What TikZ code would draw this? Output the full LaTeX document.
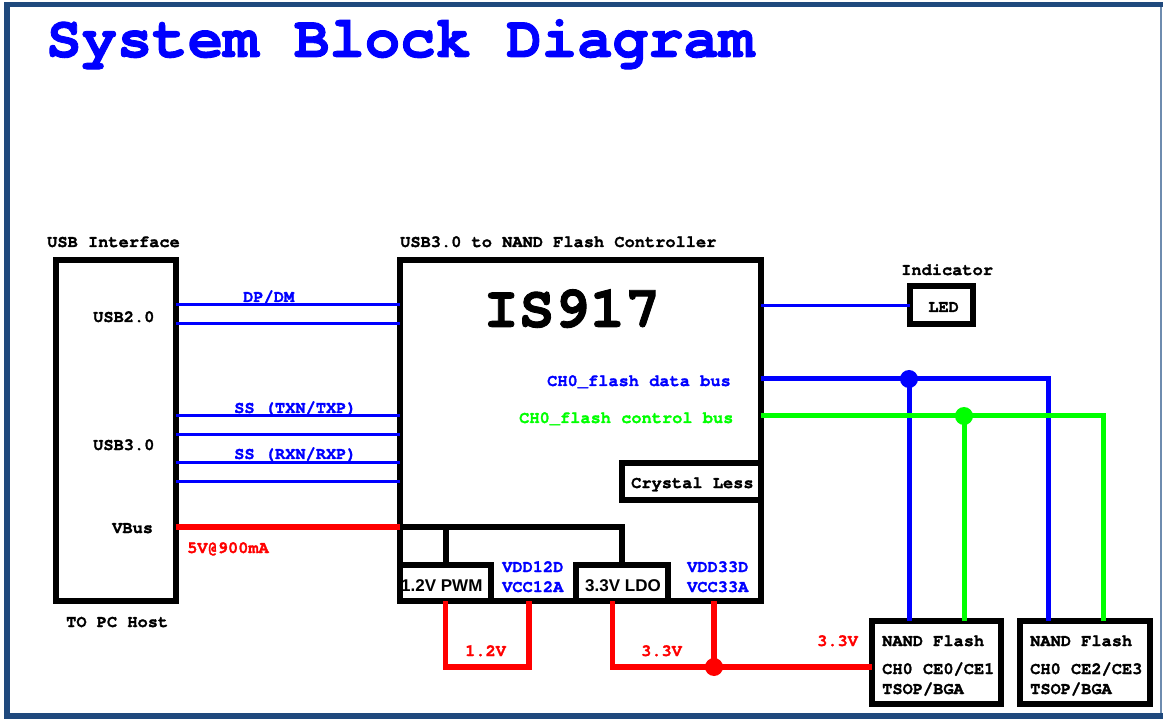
\documentclass[tikz,border=0pt]{standalone}
\usepackage{fontspec}
\newfontfamily\monof{TeX Gyre Cursor}[Ligatures=NoCommon, BoldFeatures={FakeBold=1.5}]
\newfontfamily\arialf{Liberation Sans}
\definecolor{frameblue}{RGB}{31,73,125}
\definecolor{frameside}{RGB}{110,140,175}
\definecolor{sigblue}{RGB}{0,0,255}
\definecolor{sigred}{RGB}{255,0,0}
\definecolor{siggreen}{RGB}{0,255,0}
\begin{document}
\begin{tikzpicture}[x=1pt,y=-1pt,
  box/.style={draw=black, line width=6pt, inner sep=0pt, outer sep=0pt},
  txt/.style={font=\monof\bfseries\fontsize{17}{17}\selectfont, inner sep=0pt, anchor=base west},
  big/.style={font=\monof\bfseries\fontsize{59}{59}\selectfont, inner sep=0pt, anchor=base west},
  sans/.style={font=\arialf\bfseries\fontsize{17}{17}\selectfont, inner sep=0pt, anchor=base west},
  sig/.style={draw=sigblue, line width=3pt},
  dbus/.style={draw=sigblue, line width=5pt},
  cbus/.style={draw=siggreen, line width=5pt},
  pwr/.style={draw=sigred, line width=5.5pt},
  vbus/.style={draw=sigred, line width=6pt},
  blk/.style={draw=black, line width=6pt},
  jdot/.style={circle, inner sep=0pt, outer sep=0pt, minimum size=18pt},
]
\useasboundingbox (0,0) rectangle (1163,719);
% frame
\fill[frameblue] (4,2) rectangle (1163,7);
\fill[frameblue] (4,2) rectangle (10,719);
\fill[frameblue] (4,713) rectangle (1163,719);
\fill[frameside] (1160,7) rectangle (1162,713);

% title
\node[big, text=sigblue] (title) at (46,57) {System Block Diagram};

% boxes
\node[box, minimum width=120pt, minimum height=341pt] (usb) at (116,430.5) {};
\node[box, minimum width=361pt, minimum height=341pt] (ctrl) at (580.5,430.5) {};
\node[box, minimum width=139pt, minimum height=36.5pt] (crys) at (691.5,481.25) {};
\node[box, minimum width=63pt, minimum height=38.5pt] (led) at (941.5,305.25) {};
\node[box, minimum width=129pt, minimum height=83pt] (nand1) at (936.5,662.5) {};
\node[box, minimum width=130pt, minimum height=83pt] (nand2) at (1085,662.5) {};

% PWM / LDO labels (drawn before their boxes)
\node[sans] (pwmt) at (401,591) {1.2V PWM};
\node[sans] (ldot) at (585,591) {3.3V LDO};
\node[box, minimum width=91pt, minimum height=36pt] (pwm) at (445.5,583) {};
\node[box, minimum width=92pt, minimum height=36pt] (ldo) at (622,583) {};

% coordinates
\coordinate (jd) at (909,379);
\coordinate (jc) at (964,416);
\coordinate (j33) at (714,667);
\coordinate (v12) at (529,601);

% USB signal lines
\foreach \yy in {305,323.5,416,435,463,481}{
  \draw[sig] (usb.east |- 0,\yy) -- (ctrl.west |- 0,\yy);
}
% VBus
\draw[vbus] (usb.east |- 0,527) -- (ctrl.west |- 0,527);
\draw[blk] (ctrl.west |- 0,527) -| (ldo.north);
\draw[blk] (pwm.north) -- (pwm.north |- 0,527);

% power rails
\draw[pwr] (pwm.south) |- (v12 |- j33) -- (v12);
\draw[pwr] ([xshift=-9.5pt]ldo.south) |- (j33) -- (nand1.west |- j33);
\draw[pwr] (j33) -- (j33 |- ctrl.south);
\node[jdot, fill=sigred] (d33) at (j33) {};

% LED
\draw[sig] (ctrl.east |- led.west) -- (led.west);

% buses
\draw[dbus] (ctrl.east |- jd) -| ([xshift=-37pt]nand2.north);
\draw[dbus] (jd) -- (jd |- nand1.north);
\node[jdot, fill=sigblue] (dd) at (jd) {};
\draw[cbus] (ctrl.east |- jc) -| ([xshift=18pt]nand2.north);
\draw[cbus] (jc) -- (jc |- nand1.north);
\node[jdot, fill=siggreen] (dc) at (jc) {};

% texts
\node[txt] (usbif) at (47,247) {USB Interface};
\node[txt] (ctrlt) at (400,247) {USB3.0 to NAND Flash Controller};
\node[txt] (u20) at (93,322) {USB2.0};
\node[txt] (u30) at (93,450) {USB3.0};
\node[txt] (vb) at (112,533) {VBus};
\node[txt] (pc) at (66,627) {TO PC Host};
\node[txt, text=sigblue] (dpdm) at (243,302) {DP/DM};
\node[txt, text=sigblue] (sstx) at (234,413) {SS (TXN/TXP)};
\node[txt, text=sigblue] (ssrx) at (234,459) {SS (RXN/RXP)};
\node[txt, text=sigred] (v5) at (187,553) {5V@900mA};
\node[font=\monof\bfseries\fontsize{59}{59}\selectfont, inner sep=0pt, anchor=base] (is) at (572,327) {IS917};
\node[txt, text=sigblue] (dbt) at (547,386) {CH0\symbol{95}flash data bus};
\node[txt, text=siggreen] (cbt) at (519,423) {CH0\symbol{95}flash control bus};
\node[txt] (crt) at (631,488) {Crystal Less};
\node[txt] (ind) at (901,275) {Indicator};
\node[txt] (ledt) at (928,312) {LED};
\node[txt, text=sigblue] (vd12) at (502,572) {VDD12D};
\node[txt, text=sigblue] (vc12) at (502,592) {VCC12A};
\node[txt, text=sigblue] (vd33) at (687,572) {VDD33D};
\node[txt, text=sigblue] (vc33) at (687,592) {VCC33A};
\node[txt, text=sigred] (l12) at (465,656) {1.2V};
\node[txt, text=sigred] (l33) at (641,656) {3.3V};
\node[txt, text=sigred] (l33b) at (817,646) {3.3V};
\node[txt] (n1a) at (882,646) {NAND Flash};
\node[txt] (n1b) at (882,674) {CH0 CE0/CE1};
\node[txt] (n1c) at (882,694) {TSOP/BGA};
\node[txt] (n2a) at (1030,646) {NAND Flash};
\node[txt] (n2b) at (1030,674) {CH0 CE2/CE3};
\node[txt] (n2c) at (1030,694) {TSOP/BGA};
\end{tikzpicture}
\end{document}
